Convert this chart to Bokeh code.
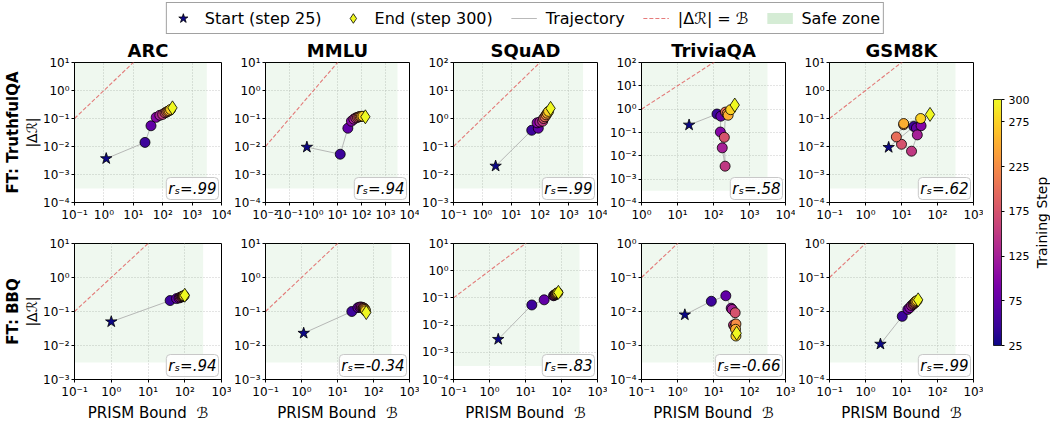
import math
from bokeh.plotting import figure
from bokeh.models import (Range1d, FixedTicker, CustomJSTickFormatter, Label, Title,
                          ColumnDataSource, LinearColorMapper, ColorBar, Legend, LegendItem)
from bokeh.palettes import Plasma256
from bokeh.layouts import row, column
from bokeh.transform import linear_cmap
from bokeh.embed import file_html
from bokeh.resources import INLINE

# ---------------- data ----------------
steps = [25, 50, 75, 100, 125, 150, 175, 200, 225, 250, 275, 300]
datasets = ["ARC", "MMLU", "SQuAD", "TriviaQA", "GSM8K"]
ft_rows = ["FT: TruthfulQA", "FT: BBQ"]

# fine-tuned on TruthfulQA: PRISM bound (B) and |dR| per step
tqa_arc_b = [1.2, 25, 40, 60, 80, 100, 120, 135, 150, 165, 185, 215]
tqa_arc_r = [0.0037, 0.014, 0.055, 0.11, 0.13, 0.14, 0.16, 0.17, 0.18, 0.19, 0.21, 0.24]
tqa_mmlu_b = [0.53, 13, 27, 38, 48, 58, 68, 78, 88, 100, 115, 145]
tqa_mmlu_r = [0.0095, 0.0053, 0.045, 0.08, 0.095, 0.105, 0.11, 0.115, 0.118, 0.12, 0.12, 0.115]
tqa_squad_b = [2.9, 52, 88, 80, 100, 125, 135, 150, 165, 180, 200, 235]
tqa_squad_r = [0.020, 0.38, 0.45, 0.70, 0.75, 0.80, 1.0, 1.15, 1.35, 1.55, 1.8, 2.3]
tqa_trivia_b = [21, 125, 160, 155, 175, 210, 200, 215, 240, 255, 300, 390]
tqa_trivia_r = [0.21, 0.62, 0.50, 0.105, 0.022, 0.0036, 0.062, 0.75, 0.65, 0.55, 0.95, 1.5]
tqa_gsm_b = [4.4, 22, 26, 35, 27.5, 19, 10, 7.2, 11.5, 11.5, 34, 62]
tqa_gsm_r = [0.0093, 0.052, 0.046, 0.055, 0.026, 0.0068, 0.012, 0.022, 0.06, 0.066, 0.1, 0.14]

# fine-tuned on BBQ
bbq_arc_b = [1.0, 40, 60, 70, 75, 80, 85, 88, 90, 93, 96, 100]
bbq_arc_r = [0.05, 0.21, 0.24, 0.25, 0.26, 0.27, 0.27, 0.28, 0.28, 0.29, 0.29, 0.30]
bbq_mmlu_b = [1.15, 25, 37, 42, 46, 50, 52, 54, 56, 58, 60, 63]
bbq_mmlu_r = [0.023, 0.10, 0.13, 0.135, 0.135, 0.13, 0.128, 0.125, 0.12, 0.115, 0.105, 0.093]
bbq_squad_b = [1.75, 15, 33, 60, 63, 66, 68, 70, 73, 76, 79, 82]
bbq_squad_r = [0.003, 0.055, 0.085, 0.12, 0.125, 0.13, 0.135, 0.14, 0.145, 0.15, 0.155, 0.16]
bbq_trivia_b = [1.6, 8.7, 22, 31, 33, 36, 40, 39, 42, 41, 42, 44]
bbq_trivia_r = [0.008, 0.020, 0.029, 0.0125, 0.0115, 0.0040, 0.0092, 0.0035, 0.0043, 0.0030, 0.0019, 0.0023]
bbq_gsm_b = [2.6, 10.5, 15, 17, 19, 21, 22, 23, 24, 25, 27, 29]
bbq_gsm_r = [0.0011, 0.0072, 0.0115, 0.013, 0.015, 0.016, 0.017, 0.018, 0.019, 0.020, 0.021, 0.022]

tqa_rs = [".99", ".94", ".99", ".58", ".62"]
bbq_rs = [".94", "-0.34", ".83", "-0.66", ".99"]

# axis limits as decade exponents
tqa_xlim = [(-1, 4), (-2, 4), (-1, 4), (0, 4), (-1, 3)]
tqa_ylim = [(-4, 1), (-4, 1), (-3, 2), (-4, 2), (-4, 1)]
bbq_xlim = [(-1, 3), (-1, 3), (-1, 3), (-1, 3), (-1, 3)]
bbq_ylim = [(-3, 1), (-3, 1), (-4, 1), (-4, 0), (-4, 0)]

cbar_ticks = [25, 75, 125, 175, 225, 275, 300]

rows_data = [
    (list(zip([tqa_arc_b, tqa_mmlu_b, tqa_squad_b, tqa_trivia_b, tqa_gsm_b],
              [tqa_arc_r, tqa_mmlu_r, tqa_squad_r, tqa_trivia_r, tqa_gsm_r])), tqa_rs, tqa_xlim, tqa_ylim),
    (list(zip([bbq_arc_b, bbq_mmlu_b, bbq_squad_b, bbq_trivia_b, bbq_gsm_b],
              [bbq_arc_r, bbq_mmlu_r, bbq_squad_r, bbq_trivia_r, bbq_gsm_r])), bbq_rs, bbq_xlim, bbq_ylim),
]

# ---------------- styling ----------------
FONT = "DejaVu Sans"
SAFE_PAD = 10 ** 0.5
LOW, HIGH = steps[0], steps[-1]
cmap = linear_cmap("step", Plasma256, LOW, HIGH)
DIAG_COLOR = "#e05a5a"
TRAJ_COLOR = "#a8a8a8"

SUP_JS = """
const e = Math.round(Math.log10(tick));
const m = {'-':'\u207b','0':'\u2070','1':'\u00b9','2':'\u00b2','3':'\u00b3','4':'\u2074',
           '5':'\u2075','6':'\u2076','7':'\u2077','8':'\u2078','9':'\u2079'};
let s = '';
for (const c of String(e)) { s += m[c]; }
return '10' + s;
"""


def style_axis(ax):
    ax.major_label_text_font = FONT
    ax.major_label_text_font_size = "12px"
    ax.major_label_text_color = "black"
    ax.axis_line_color = "black"
    ax.major_tick_line_color = "black"
    ax.major_tick_out = 3
    ax.major_tick_in = 0
    ax.minor_tick_line_color = None
    ax.major_label_standoff = 2
    ax.axis_label_text_color = "black"
    ax.formatter = CustomJSTickFormatter(code=SUP_JS)


def make_panel(r, c):
    pairs, rs_list, xlims, ylims = rows_data[r]
    bound, dr = pairs[c]
    xl, yl = xlims[c], ylims[c]
    left = 74 if c == 0 else 31
    right = 10
    top = 23 if r == 0 else 15
    bottom = 26 if r == 0 else 39
    fw = 147
    fh = 143 if r == 0 else 142
    x0, x1 = 10.0 ** xl[0], 10.0 ** xl[1]
    y0, y1 = 10.0 ** yl[0], 10.0 ** yl[1]
    p = figure(width=left + fw + right, height=top + fh + bottom,
               x_axis_type="log", y_axis_type="log",
               x_range=Range1d(x0, x1), y_range=Range1d(y0, y1),
               output_backend="svg", toolbar_location=None,
               title=(datasets[c] if r == 0 else None),
               min_border_left=left, min_border_right=right,
               min_border_top=top, min_border_bottom=bottom)
    if r == 0:
        p.title.align = "center"
        p.title.text_font = FONT
        p.title.text_font_size = "18px"
        p.title.text_font_style = "bold"
        p.title.text_color = "black"
        p.title.standoff = 3
    p.background_fill_color = "white"
    p.border_fill_color = "white"
    p.outline_line_color = "black"
    p.outline_line_alpha = 1
    p.outline_line_width = 1

    p.xaxis.ticker = FixedTicker(ticks=[10.0 ** k for k in range(xl[0], xl[1] + 1)], minor_ticks=[])
    p.yaxis.ticker = FixedTicker(ticks=[10.0 ** k for k in range(yl[0], yl[1] + 1)], minor_ticks=[])
    style_axis(p.xaxis[0])
    style_axis(p.yaxis[0])
    for g in (p.xgrid[0], p.ygrid[0]):
        g.grid_line_color = "#c4c4c4"
        g.grid_line_dash = "1 2"
        g.grid_line_alpha = 0.9

    if c == 0:
        p.yaxis.axis_label = "|\u0394\u211b|"
        p.yaxis.axis_label_text_font = FONT
        p.yaxis.axis_label_text_font_size = "14px"
        p.yaxis.axis_label_text_font_style = "normal"
        p.yaxis.axis_label_standoff = 0
        p.add_layout(Title(text=ft_rows[r], text_font=FONT, text_font_size="15px",
                           text_font_style="bold", text_color="black",
                           align="center", standoff=0), "left")
    if r == 1:
        p.xaxis.axis_label = "PRISM Bound\u00a0\u00a0\u212c"
        p.xaxis.axis_label_text_font = FONT
        p.xaxis.axis_label_text_font_size = "15px"
        p.xaxis.axis_label_text_font_style = "normal"
        p.xaxis.axis_label_standoff = 2

    # safe zone
    p.quad(left=[x0], right=[x1 / SAFE_PAD], bottom=[y0 * SAFE_PAD], top=[y1],
           fill_color="#2ca02c", fill_alpha=0.075, line_color=None)
    # |dR| = B
    p.line(x=[x0, x1], y=[x0, x1], line_color=DIAG_COLOR, line_alpha=0.8,
           line_dash="4 2", line_width=1.1)
    # trajectory
    p.line(x=bound, y=dr, line_color=TRAJ_COLOR, line_alpha=0.8, line_width=1)
    mid = ColumnDataSource(dict(b=bound[1:-1], r=dr[1:-1], step=steps[1:-1]))
    p.scatter("b", "r", source=mid, size=10, fill_color=cmap, line_color="black", line_width=0.8)
    st = ColumnDataSource(dict(b=bound[:1], r=dr[:1], step=steps[:1]))
    p.scatter("b", "r", source=st, marker="star", size=12, fill_color=cmap,
              line_color="black", line_width=0.8)
    en = ColumnDataSource(dict(b=bound[-1:], r=dr[-1:], step=steps[-1:]))
    p.scatter("b", "r", source=en, marker="diamond", size=14, fill_color=cmap,
              line_color="black", line_width=0.8)

    p.add_layout(Label(x=x1, y=y0, x_offset=-3, y_offset=3, text="r\u209b=" + rs_list[c],
                       text_align="right", text_baseline="bottom",
                       text_font=FONT, text_font_size="15px", text_font_style="italic",
                       text_color="black",
                       background_fill_color="white", background_fill_alpha=0.85,
                       border_line_color="#c8c8c8", border_line_width=1,
                       padding=2, border_radius=4))
    return p


top_row = [make_panel(0, c) for c in range(5)]
bot_row = [make_panel(1, c) for c in range(5)]

# ---------------- colorbar ----------------
cb_fig = figure(width=67, height=388, toolbar_location=None, output_backend="svg",
                x_axis_location=None, y_axis_location=None,
                x_range=Range1d(0, 1), y_range=Range1d(0, 1),
                min_border=0, outline_line_color=None)
cb_fig.grid.visible = False
mapper = LinearColorMapper(palette=Plasma256, low=LOW, high=HIGH)
cbar = ColorBar(color_mapper=mapper, ticker=FixedTicker(ticks=cbar_ticks, minor_ticks=[]),
                location=(10, 79), width=8, height=246, padding=0, orientation="vertical",
                major_label_text_font=FONT, major_label_text_font_size="11px",
                major_label_text_color="black",
                major_tick_in=0, major_tick_out=3, major_tick_line_color="black",
                minor_tick_line_color=None, label_standoff=4,
                bar_line_color="black", bar_line_width=0.8,
                background_fill_color=None, border_line_color=None)
cb_fig.add_layout(cbar, "center")
cb_fig.add_layout(Label(x=58, y=202, x_units="screen", y_units="screen", text="Training Step",
                        angle=90, angle_units="deg", text_align="center", text_baseline="middle",
                        text_font=FONT, text_font_size="14px", text_color="black"))

# ---------------- legend strip ----------------
lg = figure(width=1050, height=36, toolbar_location=None, output_backend="svg",
            x_axis_location=None, y_axis_location=None,
            x_range=Range1d(0, 1), y_range=Range1d(0, 1),
            min_border=0, outline_line_color=None)
lg.grid.visible = False
# legend handles only: each sits outside the strip's visible range
off = [-5.0]
r_star = lg.scatter(x=off, y=off, marker="star", size=12, fill_color=Plasma256[0],
                    line_color="black", line_width=0.8)
r_dia = lg.scatter(x=off, y=off, marker="diamond", size=14, fill_color=Plasma256[-1],
                   line_color="black", line_width=0.8)
r_traj = lg.line(x=off * 2, y=off * 2, line_color=TRAJ_COLOR, line_alpha=0.8, line_width=1)
r_diag = lg.line(x=off * 2, y=off * 2, line_color=DIAG_COLOR, line_alpha=0.8,
                 line_dash="4 2", line_width=1.1)
r_safe = lg.line(x=off * 2, y=off * 2, line_color="#2ca02c", line_alpha=0.2,
                 line_width=11, line_cap="butt")
legend = Legend(items=[LegendItem(label="Start (step 25)", renderers=[r_star]),
                       LegendItem(label="End (step 300)", renderers=[r_dia]),
                       LegendItem(label="Trajectory", renderers=[r_traj]),
                       LegendItem(label="|\u0394\u211b| = \u212c", renderers=[r_diag]),
                       LegendItem(label="Safe zone", renderers=[r_safe])],
                orientation="horizontal", location="center",
                label_text_font=FONT, label_text_font_size="16px", label_text_color="black",
                glyph_width=26, glyph_height=24, label_standoff=9, spacing=18,
                padding=3, margin=0, border_line_color="#444444", border_line_width=1,
                background_fill_color="white")
lg.add_layout(legend, "center")

layout = column(lg, row(column(row(*top_row), row(*bot_row)), cb_fig))

open("out.html", "w").write(file_html(layout, INLINE))
